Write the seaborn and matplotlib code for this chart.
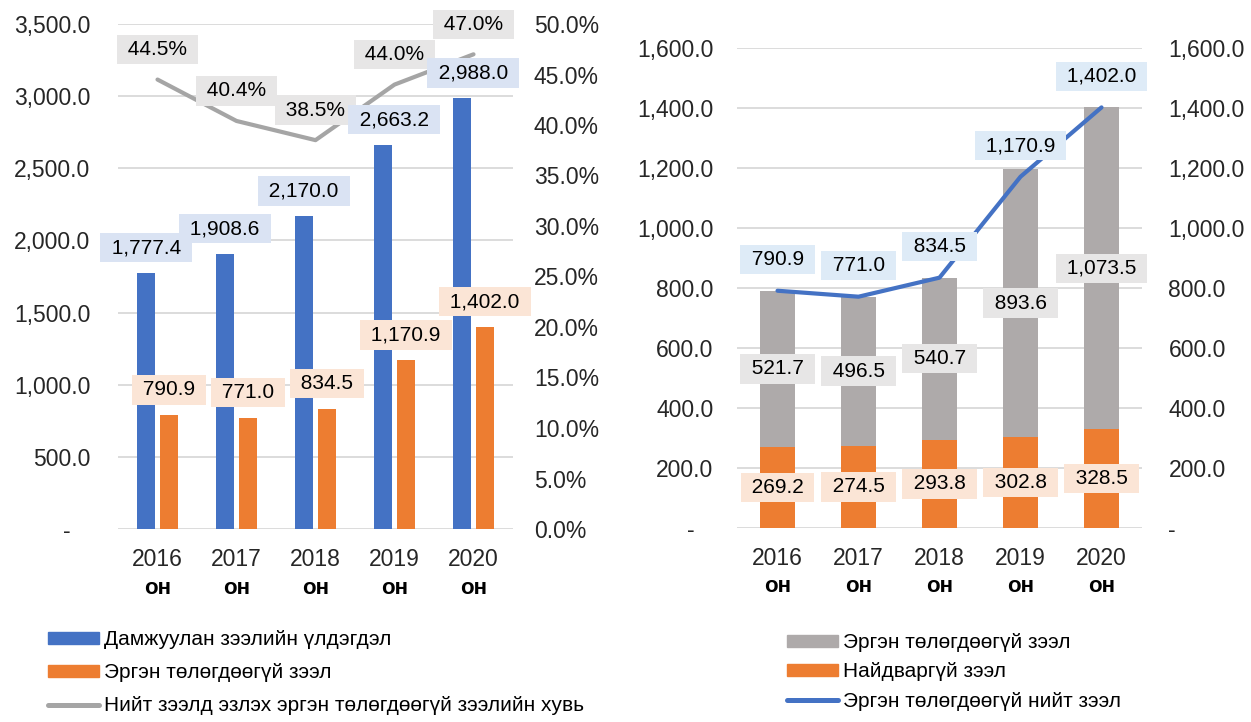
import numpy as np
import pandas as pd
import matplotlib
matplotlib.use("Agg")
import matplotlib.pyplot as plt
import seaborn as sns
from matplotlib.ticker import FuncFormatter, MultipleLocator
from matplotlib.patches import Patch
from matplotlib.lines import Line2D

# ---- data ----
years = ["2016", "2017", "2018", "2019", "2020"]

# left chart
transfer_loans = [1777.4, 1908.6, 2170.0, 2663.2, 2988.0]
npl_loans = [790.9, 771.0, 834.5, 1170.9, 1402.0]
npl_share = [0.445, 0.404, 0.385, 0.440, 0.470]

# right chart
npl_other = [521.7, 496.5, 540.7, 893.6, 1073.5]
npl_bad = [269.2, 274.5, 293.8, 302.8, 328.5]
npl_total_line = [790.9, 771.0, 834.5, 1170.9, 1402.0]

lbl_transfer = "Дамжуулан зээлийн үлдэгдэл"
lbl_npl = "Эргэн төлөгдөөгүй зээл"
lbl_share = "Нийт зээлд эзлэх эргэн төлөгдөөгүй зээлийн хувь"
lbl_bad = "Найдваргүй зээл"
lbl_total = "Эргэн төлөгдөөгүй нийт зээл"

# ---- style ----
BLUE = "#4472C4"
ORANGE = "#ED7D31"
GRAY_LINE = "#A5A5A5"
GRAY_BAR = "#AEAAAA"
BG_BLUE = "#DAE3F3"
BG_BLUE2 = "#DEEBF7"
BG_ORANGE = "#FBE5D6"
BG_GRAY = "#E7E6E6"
GRID = "#D9D9D9"

sns.set_style("white")
plt.rcParams['font.family'] = ['Liberation Sans', 'DejaVu Sans']
plt.rcParams['text.color'] = 'black'

W, H = 1251, 722
fig = plt.figure(figsize=(W / 100, H / 100), dpi=100)

TICK_FS = 16.5
LABEL_FS = 15


def num_fmt(v, _=None):
    return "-   " if abs(v) < 1e-9 else f"{v:,.1f}"


def num_fmt_right(v, _=None):
    return "-" if abs(v) < 1e-9 else f"{v:,.1f}"


def style_axes(ax):
    for s in ax.spines.values():
        s.set_visible(False)
    ax.tick_params(length=0)
    ax.set_xlabel("")
    ax.set_ylabel("")


def label(ax_host, ax_data, x, y, text, bg, dx=0, dy=0):
    # padded with spaces so the box is wider than it is tall, like the original
    ax_host.annotate(f" {text} ", xy=(x, y), xycoords=ax_data.transData,
                     xytext=(dx, dy), textcoords="offset pixels",
                     ha="center", va="center", fontsize=LABEL_FS,
                     bbox=dict(boxstyle="square,pad=0.25", fc=bg, ec="none"),
                     zorder=5)


def year_labels(ax):
    ax.set_xticks(range(len(years)))
    ax.set_xticklabels(years, fontsize=TICK_FS)
    ax.tick_params(axis="x", pad=14)
    for i in range(len(years)):
        ax.annotate("он", xy=(i, 0), xycoords=("data", "axes fraction"),
                    xytext=(0, -59), textcoords="offset pixels",
                    ha="center", va="center", fontsize=16, fontweight="bold")


# ================= left chart =================
ax1 = fig.add_axes([118 / W, 1 - 529 / H, 395 / W, 505 / H])
df_left = pd.DataFrame({
    "year": years * 2,
    "value": transfer_loans + npl_loans,
    "series": [lbl_transfer] * 5 + [lbl_npl] * 5,
})
sns.barplot(data=df_left, x="year", y="value", hue="series",
            palette=[BLUE, ORANGE], width=0.58, gap=0.2, saturation=1,
            errorbar=None, linewidth=0, legend=False, ax=ax1, zorder=2)
ax1.set_ylim(0, 3500)
ax1.yaxis.set_major_locator(MultipleLocator(500))
ax1.yaxis.set_major_formatter(FuncFormatter(num_fmt))
ax1.yaxis.grid(True, color=GRID, linewidth=1.3)
ax1.set_axisbelow(True)
style_axes(ax1)
ax1.tick_params(axis="y", labelsize=TICK_FS, pad=20)

ax2 = ax1.twinx()
sns.lineplot(x=np.arange(len(years)), y=npl_share, color=GRAY_LINE,
             linewidth=3, solid_capstyle="round", solid_joinstyle="round",
             ax=ax2)
ax2.set_ylim(0, 0.5)
ax2.yaxis.set_major_locator(MultipleLocator(0.05))
ax2.yaxis.set_major_formatter(FuncFormatter(lambda v, _: f"{v * 100:.1f}%"))
style_axes(ax2)
ax2.tick_params(axis="y", labelsize=TICK_FS, pad=15)

nudge = [0, 0, 0, 11, 11]
for i in range(len(years)):
    label(ax2, ax2, i, npl_share[i], f"{npl_share[i] * 100:.1f}%", BG_GRAY, dy=30)
    label(ax2, ax1, i - 0.145, transfer_loans[i], f"{transfer_loans[i]:,.1f}",
          BG_BLUE, dx=nudge[i], dy=25)
    label(ax2, ax1, i + 0.145, npl_loans[i], f"{npl_loans[i]:,.1f}",
          BG_ORANGE, dy=25)

year_labels(ax1)
ax1.set_xlim(-0.5, len(years) - 0.5)

# ================= right chart =================
ax3 = fig.add_axes([737 / W, 1 - 528 / H, 405 / W, 480 / H])
stack_top = [a + b for a, b in zip(npl_bad, npl_other)]
sns.barplot(x=years, y=stack_top, color=GRAY_BAR, width=0.42, saturation=1,
            errorbar=None, linewidth=0, ax=ax3, zorder=2)
sns.barplot(x=years, y=npl_bad, color=ORANGE, width=0.42, saturation=1,
            errorbar=None, linewidth=0, ax=ax3, zorder=2)
ax3.set_ylim(0, 1600)
ax3.yaxis.set_major_locator(MultipleLocator(200))
ax3.yaxis.set_major_formatter(FuncFormatter(num_fmt))
ax3.yaxis.grid(True, color=GRID, linewidth=1.3)
ax3.set_axisbelow(True)
style_axes(ax3)
ax3.tick_params(axis="y", labelsize=TICK_FS, pad=17)

for i in range(len(years)):
    label(ax3, ax3, i, npl_bad[i] / 2, f"{npl_bad[i]:,.1f}", BG_ORANGE)
    label(ax3, ax3, i, npl_bad[i] + npl_other[i] / 2, f"{npl_other[i]:,.1f}", BG_GRAY)

ax4 = ax3.twinx()
sns.lineplot(x=np.arange(len(years)), y=npl_total_line, color=BLUE,
             linewidth=3, solid_capstyle="round", solid_joinstyle="round",
             ax=ax4)
ax4.set_ylim(0, 1600)
ax4.yaxis.set_major_locator(MultipleLocator(200))
ax4.yaxis.set_major_formatter(FuncFormatter(num_fmt_right))
style_axes(ax4)
ax4.tick_params(axis="y", labelsize=TICK_FS, pad=19)

for i in range(len(years)):
    label(ax4, ax4, i, npl_total_line[i], f"{npl_total_line[i]:,.1f}", BG_BLUE2, dy=31)

year_labels(ax3)
ax3.set_xlim(-0.5, len(years) - 0.5)

# ================= legends =================
leg_kw = dict(loc="upper left", frameon=False, fontsize=LABEL_FS,
              handlelength=2.45, handleheight=0.5, handletextpad=0.25,
              borderpad=0, borderaxespad=0)

fig.legend(handles=[
    Patch(color=BLUE, label=lbl_transfer),
    Patch(color=ORANGE, label=lbl_npl),
    Line2D([], [], color=GRAY_LINE, lw=3.6, solid_capstyle="round", label=lbl_share),
], bbox_to_anchor=(48 / W, 1 - 630 / H), labelspacing=0.68, **leg_kw)

fig.legend(handles=[
    Patch(color=GRAY_BAR, label=lbl_npl),
    Patch(color=ORANGE, label=lbl_bad),
    Line2D([], [], color=BLUE, lw=3.6, solid_capstyle="round", label=lbl_total),
], bbox_to_anchor=(787 / W, 1 - 633 / H), labelspacing=0.5, **leg_kw)

fig.savefig("out.png", dpi=100, facecolor="white")
